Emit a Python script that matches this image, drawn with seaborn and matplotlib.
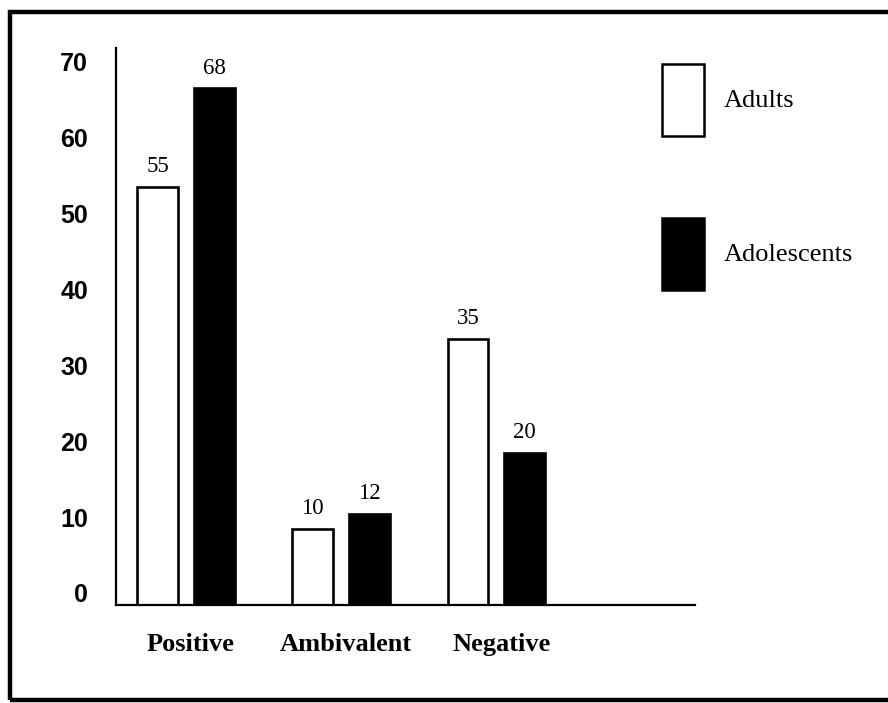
import matplotlib
matplotlib.use("Agg")
import matplotlib.pyplot as plt
import matplotlib.transforms as mtransforms
from matplotlib.patches import Rectangle, Patch
import seaborn as sns
import pandas as pd

categories = ["Positive", "Ambivalent", "Negative"]
groups = ["Adults", "Adolescents"]
adults = [55, 10, 35]
adolescents = [68, 12, 20]
yticks = [0, 10, 20, 30, 40, 50, 60, 70]

df = pd.DataFrame({
    "category": categories * 2,
    "group": [groups[0]] * 3 + [groups[1]] * 3,
    "value": adults + adolescents,
})

sns.set_theme(style="white", rc={"text.color": "black", "xtick.color": "black",
                                 "ytick.color": "black", "axes.labelcolor": "black"})
fig = plt.figure(figsize=(8.88, 7.03), dpi=100)
ax = fig.add_axes([116 / 888, 1 - 605 / 703, (695 - 116) / 888, (605 - 48) / 703])

sns.barplot(data=df, x="category", y="value", hue="group", order=categories,
            hue_order=groups, palette={"Adults": "white", "Adolescents": "black"},
            width=0.73, gap=0.28, edgecolor="black", linewidth=1.9, ax=ax,
            legend=False)

serif = ["Liberation Serif", "DejaVu Serif"]
sans = ["Liberation Sans Narrow", "Liberation Sans", "DejaVu Sans"]

for cont in ax.containers:
    ax.bar_label(cont, labels=[f"{int(v)}" for v in cont.datavalues], padding=7,
                 fontsize=16.5, family=serif, color="black")

ax.set_xlim(-0.45, 3.28)
ax.set_ylim(0, 73.3)
ax.set_yticks(yticks)
ax.set_yticklabels([str(t) for t in yticks], fontsize=18, fontweight="bold",
                   family=sans, color="black")
ax.set_xticks(range(len(categories)))
ax.set_xticklabels(categories, fontsize=19, fontweight="bold", family=serif,
                   color="black")
ax.tick_params(axis="y", length=0, pad=20)
ax.tick_params(axis="x", length=0, pad=20)
ax.set_xlabel("")
ax.set_ylabel("")
offset = mtransforms.ScaledTranslation(0, 12 / 100, fig.dpi_scale_trans)
for lab in ax.get_yticklabels():
    lab.set_transform(lab.get_transform() + offset)
xoffset = mtransforms.ScaledTranslation(5 / 100, 0, fig.dpi_scale_trans)
for lab in ax.get_xticklabels():
    lab.set_transform(lab.get_transform() + xoffset)

for side in ["top", "right"]:
    ax.spines[side].set_visible(False)
for side in ["left", "bottom"]:
    ax.spines[side].set_color("black")
    ax.spines[side].set_linewidth(1.6)

handles = [Patch(facecolor="white", edgecolor="black", linewidth=1.8),
           Patch(facecolor="black", edgecolor="black", linewidth=1.8)]
fig.legend(handles, groups, loc="upper left",
           bbox_to_anchor=(662 / 888, 1 - 64 / 703), frameon=False,
           prop={"family": serif, "size": 19}, handlelength=1.59,
           handleheight=3.82, handletextpad=0.76, labelspacing=3.1,
           borderaxespad=0, borderpad=0)

fig.patches.append(Rectangle((10 / 888, 3 / 703), 1.2, 1 - 15 / 703,
                             transform=fig.transFigure, fill=False,
                             edgecolor="black", linewidth=3.2, zorder=10))

fig.savefig("out.png", dpi=100)
